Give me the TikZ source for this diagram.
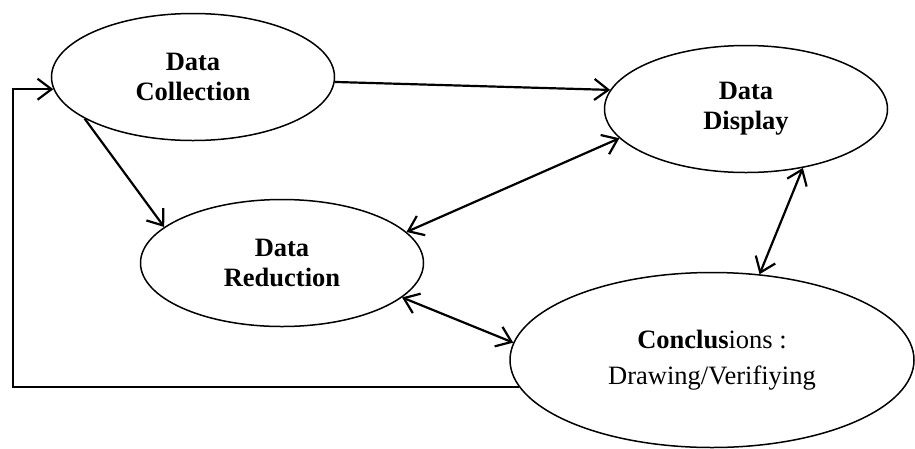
\documentclass[tikz,border=0pt]{standalone}
\usepackage{fontspec}
\setmainfont{Liberation Serif}
\usetikzlibrary{arrows.meta,shapes.geometric}
\begin{document}
\begin{tikzpicture}[x=1pt,y=-1pt,
    stage/.style={ellipse,draw,line width=1.5pt,inner sep=0pt,minimum width=283pt,minimum height=127pt,align=center,font=\fontsize{26.5}{30}\selectfont\bfseries},
    flow/.style={line width=2.2pt,-{Straight Barb[length=14pt,width=21pt,line width=2.2pt]}},
    both/.style={flow,{Straight Barb[length=14pt,width=21pt,line width=2.2pt]}-{Straight Barb[length=14pt,width=21pt,line width=2.2pt]}}]
    \useasboundingbox (0,0) rectangle (915,448);
    \node[stage] (coll) at (193,77) {Data\\Collection};
    \node[stage] (disp) at (746,109) {Data\\Display};
    \node[stage] (red) at (282,263) {Data\\Reduction};
    \node[stage,minimum width=404pt,minimum height=175pt,font=\fontsize{26.5}{36}\selectfont] (conc) at (712,360) {\textbf{Conclus}ions :\\Drawing/Verifiying};
    \coordinate (turn) at (13,0);
    \draw[flow] (coll.-2) -- (disp.172);
    \draw[flow] (coll.201) -- (red.163);
    \draw[both] (red.14) -- (disp.193);
    \draw[both] (red.-16) -- (conc.175);
    \draw[both] (disp.-46) -- (conc.61);
    \draw[flow] (conc.188) -- (conc.188 -| turn) -- (coll.185 -| turn) -- (coll.185);
\end{tikzpicture}
\end{document}
